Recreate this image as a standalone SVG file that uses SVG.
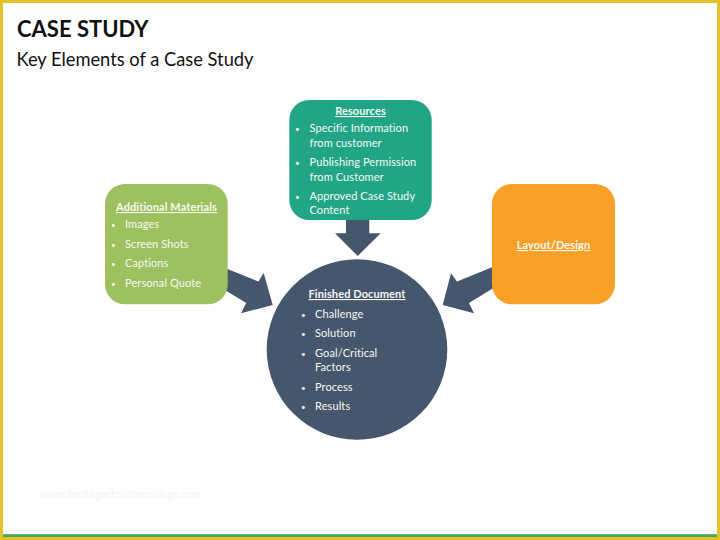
<svg xmlns="http://www.w3.org/2000/svg" width="720" height="540" viewBox="0 0 720 540">
<style>
text{font-family:"Lato","Open Sans","Liberation Sans",sans-serif;fill:#f6f8f2;font-size:11px;letter-spacing:.1px}
.h{font-weight:700;text-decoration:underline;text-anchor:middle}
.b{font-size:8px;letter-spacing:0}
.arrow{fill:#46566c}
</style>
<rect width="720" height="540" fill="#fff"/>
<g id="frame">
<rect x="3" y="534" width="714" height="1.2" fill="#3fc8a0"/>
<rect x="3" y="535" width="714" height="2.4" fill="#5f9e4a"/>
<rect x="1.5" y="1.500" width="717" height="537" fill="none" stroke="#e0c22c" stroke-width="3"/>
</g>
<g id="title">
<text x="17" y="36.500" style="font-size:22px;font-weight:700;fill:#111;letter-spacing:0">CASE STUDY</text>
<text x="16.500" y="66" style="font-size:18.300px;fill:#111;letter-spacing:0">Key Elements of a Case Study</text>
</g>
<text x="40" y="498" style="font-size:10.700px;fill:#f3f3f3;letter-spacing:0">www.heritagechristiancollege.com</text>
<g id="connectors">
<polygon class="arrow" points="215,264 258.4,281.5 263.7,273 272.7,305 241,313.3 246.2,303 215,284"/>
<polygon class="arrow" points="500,264 457,281.5 451,273.3 442.7,305 474,313.3 469,303 500,284"/>
<polygon class="arrow" points="346,210 369.3,210 369.3,233.3 380.7,233.3 357.7,256 335,233.3 346,233.3"/>
</g>
<g id="additional-materials">
<rect x="105" y="184" width="122.700" height="120.300" rx="20" fill="#9dc15f"/>
<text class="h" x="166.500" y="211">Additional Materials</text>
<text class="b" x="111" y="228">•</text><text x="125" y="228">Images</text>
<text class="b" x="111" y="248">•</text><text x="125" y="248">Screen Shots</text>
<text class="b" x="111" y="267">•</text><text x="125" y="267">Captions</text>
<text class="b" x="111" y="286.500">•</text><text x="125" y="286.500">Personal Quote</text>
</g>
<g id="resources">
<rect x="289.300" y="100" width="142.400" height="120" rx="20" fill="#22a587"/>
<text class="h" x="360.500" y="115">Resources</text>
<text class="b" x="295" y="132">•</text><text x="309.500" y="132">Specific Information</text>
<text x="309.500" y="146.500">from customer</text>
<text class="b" x="295" y="166">•</text><text x="309.500" y="166">Publishing Permission</text>
<text x="309.500" y="180.500">from Customer</text>
<text class="b" x="295" y="200">•</text><text x="309.500" y="200">Approved Case Study</text>
<text x="309.500" y="214">Content</text>
</g>
<g id="layout-design">
<rect x="492" y="184" width="123" height="120.300" rx="20" fill="#fba026"/>
<text class="h" x="553.500" y="249">Layout/Design</text>
</g>
<g id="finished-document">
<circle cx="357" cy="349.500" r="90.300" fill="#46566c"/>
<text class="h" x="357" y="298">Finished Document</text>
<text class="b" x="301" y="318">•</text><text x="315" y="318">Challenge</text>
<text class="b" x="301" y="337">•</text><text x="315" y="337">Solution</text>
<text class="b" x="301" y="356.500">•</text><text x="315" y="356.500">Goal/Critical</text>
<text x="315" y="371">Factors</text>
<text class="b" x="301" y="390.500">•</text><text x="315" y="390.500">Process</text>
<text class="b" x="301" y="409.500">•</text><text x="315" y="409.500">Results</text>
</g>
</svg>
